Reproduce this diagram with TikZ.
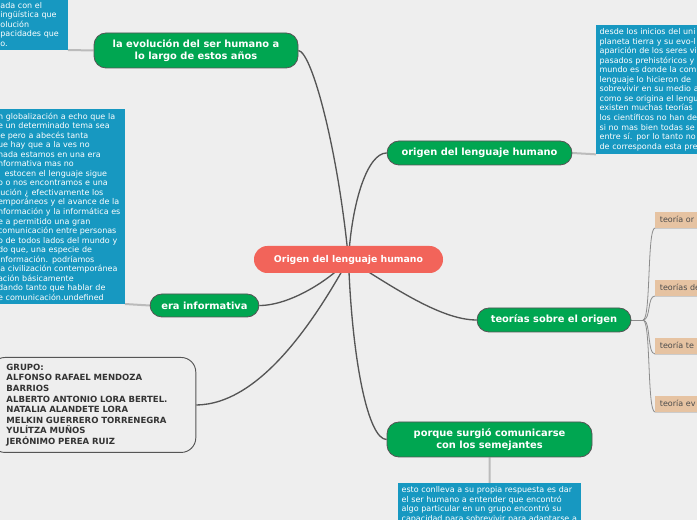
\documentclass[tikz,border=0pt]{standalone}
\usepackage{fontspec}
\setmainfont{DejaVu Sans}
\usepackage{xcolor}
\usepackage{tikz}
\usetikzlibrary{positioning,calc}

\definecolor{bggrey}{HTML}{EEEEEE}
\definecolor{mapgreen}{HTML}{00A651}
\definecolor{mapred}{HTML}{F2645A}
\definecolor{noteblue}{HTML}{1798C1}
\definecolor{tanbox}{HTML}{E6C3A2}
\definecolor{linegrey}{HTML}{555555}
\definecolor{notegrey}{HTML}{BBBBBB}

\pgfdeclarelayer{bg}
\pgfdeclarelayer{edges}
\pgfsetlayers{bg,edges,main}

\tikzset{
  rootnode/.style={fill=mapred, text=white, font=\bfseries\fontsize{7pt}{9pt}\selectfont,
    rounded corners=10pt, minimum width=141.75pt, minimum height=20.25pt},
  topic/.style={fill=mapgreen, draw=linegrey, line width=0.6pt, text=white,
    font=\bfseries\fontsize{7.4pt}{9pt}\selectfont, align=center, rounded corners=9pt},
  note/.style={fill=noteblue, text=white, font=\fontsize{6pt}{7.15pt}\selectfont,
    align=left, inner xsep=2.5pt, inner ysep=2.5pt},
  groupbox/.style={draw=linegrey, line width=0.7pt, fill=bggrey, rounded corners=11pt,
    text=black!80, font=\bfseries\fontsize{6.4pt}{7.9pt}\selectfont, align=left,
    text width=130pt, inner xsep=12pt, minimum height=71.25pt},
  subtopic/.style={fill=tanbox, text=black!70, font=\fontsize{6pt}{7pt}\selectfont,
    align=left, text width=60pt, inner xsep=3.5pt, minimum height=12pt, anchor=south west},
  branch/.style={draw=linegrey, line width=1pt},
  noteline/.style={draw=notegrey, line width=1.5pt},
  subline/.style={draw=black!45, line width=0.6pt}
}

\begin{document}
\begin{tikzpicture}[x=0.75pt,y=-0.75pt]
  \useasboundingbox (0,0) rectangle (697,520);
  \clip (0,0) rectangle (697,520);
  \begin{pgfonlayer}{bg}
    \fill[bggrey] (0,0) rectangle (697,520);
  \end{pgfonlayer}

  % central topic
  \node[rootnode] (root) at (348.5,259.5) {Origen del lenguaje humano};

  % main topics
  \node[topic, minimum width=153pt, minimum height=26.25pt] (evol) at (196,50.5)
    {la evolución del ser humano a\\lo largo de estos años};
  \node[topic, minimum width=138.75pt, minimum height=18pt] (origen) at (479.5,153)
    {origen del lenguaje humano};
  \node[topic, minimum width=81.75pt, minimum height=17.25pt] (era) at (204.5,305.5)
    {era informativa};
  \node[topic, minimum width=115.5pt, minimum height=18pt] (teorias) at (554,320)
    {teorías sobre el origen};
  \node[topic, minimum width=153.75pt, minimum height=26.25pt] (porque) at (489.5,439.5)
    {porque surgió comunicarse\\con los semejantes};

  % group members
  \node[groupbox, anchor=north west] (grupo) at (-10,357)
    {GRUPO:\\ALFONSO RAFAEL MENDOZA\\BARRIOS\\ALBERTO ANTONIO LORA BERTEL.\\NATALIA ALANDETE LORA\\MELKIN GUERRERO TORRENEGRA\\YULÍTZA MUÑOS\\JERÓNIMO PEREA RUIZ};

  % notes
  \node[note, anchor=south east, text width=48pt] (evolnote) at (68,50)
    {ada con el\\ingüística que\\olución\\pacidades que\\o.};
  \node[note, anchor=south east, text width=92.5pt] (eranote) at (125,304)
    {n globalización a echo que la\\e un determinado tema sea\\le pero a abecés tanta\\ue hay que a la ves no\\nada estamos en una era\\nformativa mas no\\. estocen el lenguaje sigue\\o o nos encontramos e una\\lución ¿ efectivamente los\\emporáneos y el avance de la\\nformación y la informática es\\e a permitido una gran\\comunicación entre personas\\o de todos lados del mundo y\\do que, una especie de\\información. podríamos\\la civilización contemporánea\\ación básicamente\\dando tanto que hablar de\\e comunicación.undefined};
  \node[note, anchor=north west, text width=120pt] (origennote) at (596,25)
    {desde los inicios del uni\\planeta tierra y su evo-l\\aparición de los seres vi\\pasados prehistóricos y\\mundo es donde la com\\lenguaje lo hicieron de\\sobrevivir en su medio a\\como se origina el lengu\\existen muchas teorías\\los científicos no han de\\si no mas bien todas se\\entre sí. por lo tanto no\\de corresponda esta pre};
  \node[note, anchor=north west, text width=132pt] (porquenote) at (398,483)
    {esto conlleva a su propia respuesta es dar\\el ser humano a entender que encontró\\algo particular en un grupo encontró su\\capacidad para sobrevivir para adaptarse a};

  % theories
  \node[subtopic] (teo1) at (655,228) {teoría or};
  \node[subtopic] (teo2) at (655,296) {teorías de};
  \node[subtopic] (teo3) at (655,354) {teoría te};
  \node[subtopic] (teo4) at (655,412) {teoría ev};
  \coordinate (fork) at (643,320);

  % connectors
  \begin{pgfonlayer}{edges}
    \draw[branch] (root.center) .. controls (338,150) and (312,52) .. (evol.east);
    \draw[branch] (root.center) .. controls (352,200) and (368,153) .. (origen.west);
    \draw[branch] (root.center) .. controls (390,285) and (440,320) .. (teorias.west);
    \draw[branch] (root.center) .. controls (330,280) and (290,305.5) .. (era.east);
    \draw[branch] (root.center) .. controls (315,320) and (260,404.5) .. (grupo.east);
    \draw[branch] (root.center) .. controls (352,360) and (368,439.5) .. (porque.west);

    \draw[noteline] (evol.west) -- (evolnote.south east);
    \draw[noteline] (era.west) -- (eranote.south east);
    \draw[noteline] (origen.east) -- (origennote.south west);
    \draw[noteline] (porque.south) -- (porquenote.north);

    \draw[subline] (teorias.east) -- (fork);
    \draw[subline] (fork) .. controls +(8,0) and +(-8,0) .. (teo1.south west) -- (teo1.south east);
    \draw[subline] (fork) .. controls +(8,0) and +(-8,0) .. (teo2.south west) -- (teo2.south east);
    \draw[subline] (fork) .. controls +(8,0) and +(-8,0) .. (teo3.south west) -- (teo3.south east);
    \draw[subline] (fork) .. controls +(8,0) and +(-8,0) .. (teo4.south west) -- (teo4.south east);
  \end{pgfonlayer}
\end{tikzpicture}
\end{document}
